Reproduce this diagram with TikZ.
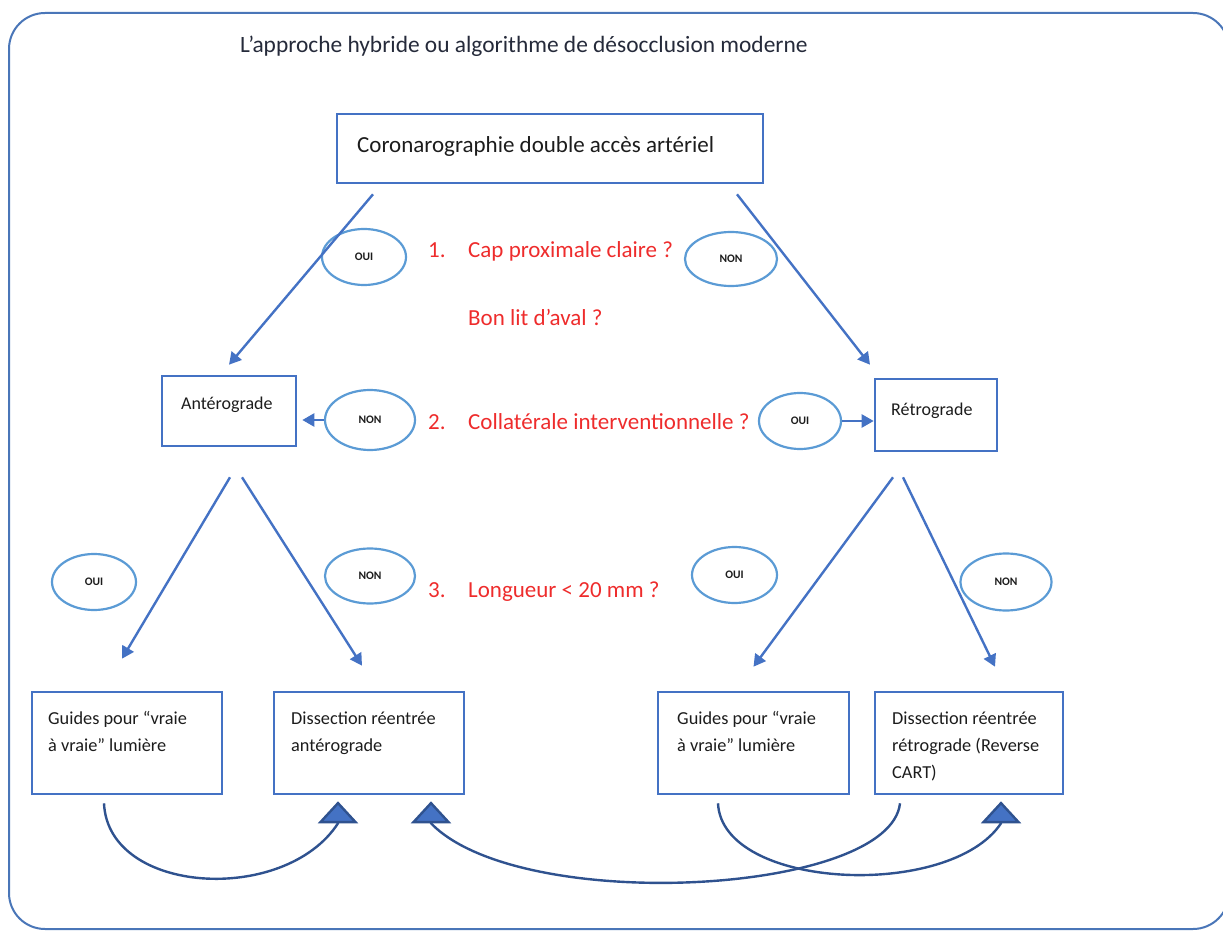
\documentclass[tikz,border=0pt]{standalone}
\usepackage{fontspec}
\setmainfont{Carlito}
\usetikzlibrary{arrows.meta,shapes.geometric}
\definecolor{cadre}{HTML}{4A76B8}
\definecolor{boite}{HTML}{4472C4}
\definecolor{ellc}{HTML}{5B9BD5}
\definecolor{fleche}{HTML}{4472C4}
\definecolor{courbe}{HTML}{2F528F}
\definecolor{rouge}{HTML}{EE2C2C}
\definecolor{titre}{HTML}{252A3A}
\definecolor{texte}{HTML}{1C1C1C}
\begin{document}
\begin{tikzpicture}[x=1pt,y=-1pt,
  boxst/.style={draw=boite,line width=2.6pt,rectangle,inner sep=0pt},
  boxtxt/.style={font=\fontsize{18.3}{27}\selectfont,text=texte,anchor=north west,inner sep=0pt,align=left},
  redtxt/.style={font=\fontsize{23}{28}\selectfont,text=rouge,anchor=base west,inner sep=0pt},
  ellst/.style={draw=ellc,line width=2.2pt,ellipse,inner sep=0pt,font=\fontsize{11.5}{14}\selectfont\bfseries,text=texte},
  arrst/.style={draw=fleche,line width=2.4pt,-{Triangle[length=12pt,width=13pt]}},
  curvest/.style={draw=courbe,line width=2.4pt,-{Triangle[length=22pt,width=40pt,fill=boite]}}
]
\useasboundingbox (0,0) rectangle (1223,933);
\begin{scope}
\clip (0,0) rectangle (1223,933);
\draw[cadre,line width=2pt,rounded corners=36pt] (9,13) rectangle (1229,929);
\end{scope}

% title
\node[font=\fontsize{23.4}{28}\selectfont,text=titre,anchor=base west,inner sep=0pt] (title) at (240,53) {L’approche hybride ou algorithme de désocclusion moderne};

% boxes
\node[boxst,minimum width=426pt,minimum height=69pt] (top) at (550,148.5) {};
\node[font=\fontsize{23}{28}\selectfont,text=texte,anchor=base west,inner sep=0pt] (toptxt) at (357,152.5) {Coronarographie double accès artériel};

\node[boxst,minimum width=134pt,minimum height=70pt] (ante) at (229,411) {};
\node[font=\fontsize{18}{22}\selectfont,text=texte,anchor=base west,inner sep=0pt] (antetxt) at (181,409) {Antérograde};

\node[boxst,minimum width=122pt,minimum height=72pt] (retro) at (936,415) {};
\node[font=\fontsize{18}{22}\selectfont,text=texte,anchor=base west,inner sep=0pt] (retrotxt) at (891,415) {Rétrograde};

\node[boxst,minimum width=190pt,minimum height=102pt] (b1) at (127,743) {};
\node[boxst,minimum width=190pt,minimum height=102pt] (b2) at (369,743) {};
\node[boxst,minimum width=191pt,minimum height=102pt] (b3) at (753.5,743) {};
\node[boxst,minimum width=188pt,minimum height=102pt] (b4) at (969,743) {};
\node[boxtxt] (b1txt) at (48,711.5) {Guides pour “vraie\\à vraie” lumière};
\node[boxtxt] (b2txt) at (291,711.5) {Dissection réentrée\\antérograde};
\node[boxtxt] (b3txt) at (677,711.5) {Guides pour “vraie\\à vraie” lumière};
\node[boxtxt] (b4txt) at (892,711.5) {Dissection réentrée\\rétrograde (Reverse\\CART)};

% red questions
\node[redtxt] (q1n) at (428,258) {1.};
\node[redtxt] (q1) at (468,258) {Cap proximale claire ?};
\node[redtxt] (q1b) at (468,325) {Bon lit d’aval ?};
\node[redtxt] (q2n) at (428,429) {2.};
\node[redtxt] (q2) at (468,429) {Collatérale interventionnelle ?};
\node[redtxt] (q3n) at (428,597) {3.};
\node[redtxt] (q3) at (468,597) {Longueur < 20 mm ?};

% ellipses
\node[ellst,minimum width=84pt,minimum height=56pt] (e1) at (364,257) {OUI};
\node[ellst,minimum width=92pt,minimum height=54pt] (e2) at (731,259) {NON};
\node[ellst,minimum width=90pt,minimum height=60pt] (e3) at (370,420) {NON};
\node[ellst,minimum width=82pt,minimum height=56pt] (e4) at (800,421) {OUI};
\node[ellst,minimum width=84pt,minimum height=56pt] (e5) at (94,582) {OUI};
\node[ellst,minimum width=90pt,minimum height=55pt] (e6) at (370,576) {NON};
\node[ellst,minimum width=85pt,minimum height=56pt] (e7) at (734.5,575) {OUI};
\node[ellst,minimum width=91pt,minimum height=57pt] (e8) at (1006,582) {NON};

% straight arrows
\draw[arrst] ([xshift=-177pt,yshift=-10pt]top.south) -- ([yshift=10pt]ante.north);
\draw[arrst] ([xshift=187pt,yshift=-10pt]top.south) -- ([xshift=-66pt,yshift=13pt]retro.north);
\draw[arrst,shorten >=5pt] (e3.west) -- (e3.west -| ante.east);
\draw[arrst] (e4.east) -- (e4.east -| retro.west);
\draw[arrst] ([xshift=1pt,yshift=-30pt]ante.south) -- ([xshift=-5pt,yshift=32pt]b1.north);
\draw[arrst] ([xshift=13pt,yshift=-30pt]ante.south) -- ([xshift=-7pt,yshift=25pt]b2.north);
\draw[arrst] ([xshift=-43pt,yshift=-25pt]retro.south) -- ([xshift=0pt,yshift=24pt]b3.north);
\draw[arrst] ([xshift=-33pt,yshift=-25pt]retro.south) -- ([xshift=26pt,yshift=24pt]b4.north);

% curved arrows
\draw[curvest] ([xshift=-23pt,yshift=-8pt]b1.south) .. controls (108,895) and (285,905) .. ([xshift=-31pt,yshift=-28pt]b2.south) -- ([xshift=-31pt,yshift=-6pt]b2.south);
\draw[curvest] ([xshift=-69pt,yshift=-8pt]b4.south) .. controls (890,895) and (520,915) .. ([xshift=62pt,yshift=-28pt]b2.south) -- ([xshift=62pt,yshift=-6pt]b2.south);
\draw[curvest] ([xshift=-35.5pt,yshift=-8pt]b3.south) .. controls (722,890) and (950,900) .. ([xshift=32pt,yshift=-28pt]b4.south) -- ([xshift=32pt,yshift=-6pt]b4.south);
\end{tikzpicture}
\end{document}
